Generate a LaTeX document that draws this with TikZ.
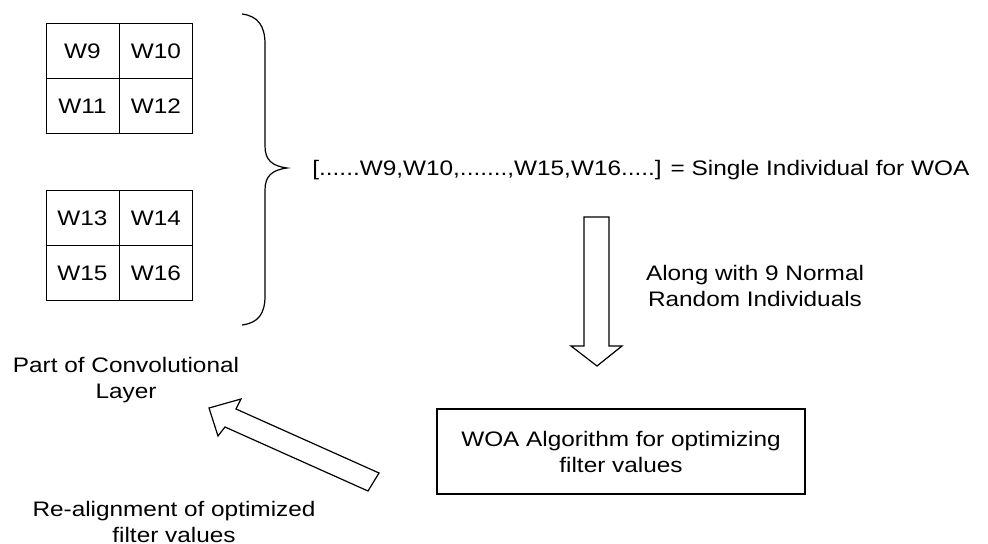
\documentclass[tikz,border=0pt]{standalone}
\usepackage{fontspec}
\setmainfont[FakeStretch=1.16]{Liberation Sans}
\usepackage{tikz}

\tikzset{
    cellbox/.style={draw, line width=0.5pt, minimum width=36.5pt, minimum height=27.5pt, inner sep=0pt, font=\fontsize{10.5}{12}\selectfont},
    label/.style={align=center, font=\fontsize{10.5}{13}\selectfont, inner sep=0pt},
    blockarrow/.style={draw, line width=0.6pt, line join=miter, fill=white}
}

\begin{document}
\begin{tikzpicture}[x=0.5pt, y=-0.5pt]
            \useasboundingbox (0,0) rectangle (988,544);
            % filter cells
            \foreach \r/\c/\w in {0/0/9, 0/1/10, 1/0/11, 1/1/12} {
                \pgfmathsetmacro{\xc}{82.5+\c*73.5}
                \pgfmathsetmacro{\yc}{51.5+\r*54.5}
                \node[cellbox] (w\w) at (\xc,\yc) {W\w};
            }
            \foreach \r/\c/\w in {0/0/13, 0/1/14, 1/0/15, 1/1/16} {
                \pgfmathsetmacro{\xc}{82.5+\c*73.5}
                \pgfmathsetmacro{\yc}{218+\r*55.5}
                \node[cellbox] (w\w) at (\xc,\yc) {W\w};
            }
            % brace
            \draw[line width=0.6pt] (242,14) .. controls (258,16) and (265,26) .. (265,44)
                -- (265,146) .. controls (265,160) and (272,166) .. (287,168)
                .. controls (272,170) and (265,176) .. (265,190)
                -- (265,296) .. controls (265,314) and (258,323) .. (242,325);
            % labels
            \node[label, anchor=west] (indiv) at (312,170) {[......W9,W10,.......,W15,W16.....] = Single Individual for WOA};
            \node[label] (along) at (755,286) {Along with 9 Normal\\Random Individuals};
            \node[draw, line width=0.6pt, minimum width=184pt, minimum height=42.5pt, label] (woa) at (621,451.5) {WOA Algorithm for optimizing\\filter values};
            \node[label] (conv) at (126,380) {Part of Convolutional\\Layer};
            \node[label] (realign) at (174,522) {Re-alignment of optimized\\filter values};
            % block arrows
            \draw[blockarrow] (584,217) -- (609,217) -- (609,346) -- (622,346) -- (597,366)
                -- (571,346) -- (584,346) -- cycle;
            \draw[blockarrow] (379,473) -- (236,409) -- (241,399) -- (209,408) -- (218,436)
                -- (225,427) -- (368,491) -- cycle;
        \end{tikzpicture}
\end{document}
